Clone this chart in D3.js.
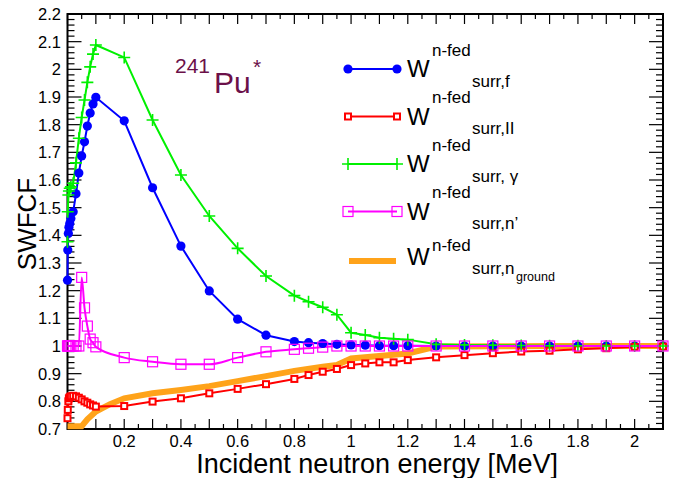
<!DOCTYPE html>
<html>
<head>
<meta charset="utf-8">
<script src="https://cdn.jsdelivr.net/npm/d3@7"></script>
<style>
  body { margin: 0; background: #fff; }
  text { font-family: "Liberation Sans", Arial, sans-serif; }
</style>
</head>
<body>
<div id="chart-area"></div>
<script>
// incident neutron energy (MeV) of the marked curves
var energy = [0.00001, 0.001, 0.003, 0.005, 0.008, 0.012, 0.02, 0.03, 0.04, 0.05, 0.06, 0.07, 0.08, 0.09, 0.1,
  0.2, 0.3, 0.4, 0.5, 0.6, 0.7, 0.8,
  0.85, 0.9, 0.95, 1.0, 1.05, 1.1, 1.15, 1.2,
  1.3, 1.4, 1.5, 1.6, 1.7, 1.8, 1.9, 2.0, 2.1];

var wFission = [1.238, 1.347, 1.407, 1.429, 1.443, 1.461, 1.485, 1.550, 1.625, 1.687, 1.738, 1.795, 1.842, 1.875, 1.899,
  1.814, 1.572, 1.361, 1.199, 1.097, 1.039, 1.016,
  1.012, 1.009, 1.006, 1.004, 1.003, 1.001, 1.001, 1.001,
  1.0, 1.0, 1.0, 1.0, 1.0, 1.0, 1.0, 1.0, 1.0];

var wTwo = [0.739, 0.769, 0.800, 0.811, 0.815, 0.818, 0.820, 0.818, 0.813, 0.807, 0.800, 0.795, 0.789, 0.785, 0.781,
  0.783, 0.799, 0.811, 0.829, 0.845, 0.862, 0.881,
  0.895, 0.907, 0.917, 0.931, 0.937, 0.941, 0.941, 0.949,
  0.959, 0.967, 0.974, 0.980, 0.983, 0.988, 0.992, 0.997, 0.998];

var wGamma = [1.377, 1.485, 1.546, 1.560, 1.570, 1.575, 1.588, 1.662, 1.751, 1.826, 1.889, 1.953, 2.009, 2.055, 2.088,
  2.043, 1.817, 1.618, 1.470, 1.353, 1.253, 1.182,
  1.160, 1.140, 1.113, 1.048, 1.040, 1.030, 1.026, 1.023,
  1.006, 1.004, 1.003, 1.002, 1.001, 1.001, 1.000, 1.000, 1.000];

var wInel = [1.0, 1.0, 1.0, 1.0, 1.0, 1.0, 1.0, 1.0, 1.0, 1.248, 1.138, 1.072, 1.025, 1.012, 0.997,
  0.958, 0.943, 0.934, 0.934, 0.958, 0.979, 0.988,
  0.992, 0.996, 1.0, 1.0, 1.0, 1.0, 1.0, 1.0,
  1.0, 1.0, 1.0, 1.0, 1.0, 1.0, 1.0, 1.0, 1.0];

// ground state curve (no markers)
var energyGround = [0, 0.05, 0.07, 0.1, 0.15, 0.2, 0.3, 0.4, 0.5, 0.6, 0.7, 0.8, 0.9, 0.95, 1.0, 1.2, 1.3, 1.5, 1.7, 2.1];
var wGround = [0.710, 0.710, 0.735, 0.763, 0.790, 0.811, 0.829, 0.841, 0.855, 0.873, 0.891, 0.910, 0.925, 0.931, 0.955, 0.973, 0.998, 0.999, 1.0, 1.0];

var xTickLabels = [0.2, 0.4, 0.6, 0.8, 1, 1.2, 1.4, 1.6, 1.8, 2];
var yTickLabels = [0.7, 0.8, 0.9, 1, 1.1, 1.2, 1.3, 1.4, 1.5, 1.6, 1.7, 1.8, 1.9, 2, 2.1, 2.2];

var legendSubs = ["surr,f", "surr,II", "surr, \u03b3", "surr,n\u2019", "surr,n"];

var width = 685, height = 478;
var pLeft = 67.5, pRight = 663, pTop = 14, pBottom = 429;

var svg = d3.select("#chart-area").append("svg")
  .attr("width", width)
  .attr("height", height);

var x = d3.scaleLinear().domain([0, 2.1]).range([pLeft, pRight]);
var y = d3.scaleLinear().domain([0.7, 2.2]).range([pBottom, pTop]);

// frame ticks (inside, on all four sides)
var ticks = svg.append("g").attr("stroke", "#000").attr("stroke-width", 1.2);
d3.range(0, 2.1001, 0.05).forEach(function(v) {
  var major = Math.abs(v * 10 - Math.round(v * 10)) < 1e-6;
  var len = major ? 10 : 5;
  ticks.append("line").attr("x1", x(v)).attr("x2", x(v)).attr("y1", pBottom).attr("y2", pBottom - len);
  ticks.append("line").attr("x1", x(v)).attr("x2", x(v)).attr("y1", pTop).attr("y2", pTop + len);
});
d3.range(0.7, 2.2001, 0.02).forEach(function(v) {
  var major = Math.abs(v * 10 - Math.round(v * 10)) < 1e-6;
  var len = major ? 14 : 7;
  ticks.append("line").attr("x1", pLeft).attr("x2", pLeft + len).attr("y1", y(v)).attr("y2", y(v));
  ticks.append("line").attr("x1", pRight).attr("x2", pRight - len).attr("y1", y(v)).attr("y2", y(v));
});

svg.append("rect")
  .attr("x", pLeft).attr("y", pTop)
  .attr("width", pRight - pLeft).attr("height", pBottom - pTop)
  .attr("fill", "none").attr("stroke", "#000").attr("stroke-width", 2);

// tick labels
svg.append("g").selectAll("text").data(xTickLabels).enter()
  .append("text")
  .attr("x", function(d) { return x(d); })
  .attr("y", 446.5)
  .attr("text-anchor", "middle")
  .attr("font-size", "16.5px")
  .text(function(d) { return d; });

svg.append("g").selectAll("text").data(yTickLabels).enter()
  .append("text")
  .attr("x", 61)
  .attr("y", function(d) { return y(d) + 6; })
  .attr("text-anchor", "end")
  .attr("font-size", "16.5px")
  .text(function(d) { return d; });

// axis titles
svg.append("text")
  .attr("x", 558).attr("y", 473)
  .attr("text-anchor", "end")
  .attr("font-size", "27px")
  .text("Incident neutron energy [MeV]");

svg.append("text")
  .attr("transform", "translate(36, 224) rotate(-90)")
  .attr("text-anchor", "middle")
  .attr("font-size", "26px")
  .text("SWFCF");

// curves
var blue = "#0000ff", red = "#ff0000", green = "#00f000", magenta = "#ff00ff", orange = "#ffa31a";

function pairs(xs, ys) {
  return xs.map(function(d, i) { return [d, ys[i]]; });
}

var line = d3.line().x(function(d) { return x(d[0]); }).y(function(d) { return y(d[1]); });
var smooth = d3.line().curve(d3.curveMonotoneX).x(function(d) { return x(d[0]); }).y(function(d) { return y(d[1]); });

svg.append("path").datum(pairs(energyGround, wGround))
  .attr("d", line).attr("fill", "none").attr("stroke", orange).attr("stroke-width", 6);

var fData = pairs(energy, wFission);
var iiData = pairs(energy, wTwo);
var gData = pairs(energy, wGamma);
var nData = pairs(energy, wInel);

svg.append("path").datum(fData).attr("d", line).attr("fill", "none").attr("stroke", blue).attr("stroke-width", 2);
svg.append("path").datum(iiData).attr("d", line).attr("fill", "none").attr("stroke", red).attr("stroke-width", 2);
svg.append("path").datum(gData).attr("d", line).attr("fill", "none").attr("stroke", green).attr("stroke-width", 2);
svg.append("path").datum(nData).attr("d", smooth).attr("fill", "none").attr("stroke", magenta).attr("stroke-width", 2);

// markers
function circleMark(g, px, py) {
  g.append("circle").attr("cx", px).attr("cy", py).attr("r", 4.6).attr("fill", blue);
}
function smallSquare(g, px, py) {
  g.append("rect").attr("x", px - 3).attr("y", py - 3).attr("width", 6).attr("height", 6)
    .attr("fill", "#fff").attr("stroke", red).attr("stroke-width", 2);
}
function plusMark(g, px, py) {
  g.append("path").attr("d", "M" + (px - 6) + "," + py + "H" + (px + 6) + "M" + px + "," + (py - 6) + "V" + (py + 6))
    .attr("stroke", green).attr("stroke-width", 1.6);
}
function openSquare(g, px, py) {
  g.append("rect").attr("x", px - 5).attr("y", py - 5).attr("width", 10).attr("height", 10)
    .attr("fill", "none").attr("stroke", magenta).attr("stroke-width", 1.2);
}

var marks = svg.append("g");
fData.forEach(function(d) { circleMark(marks, x(d[0]), y(d[1])); });
iiData.forEach(function(d) { smallSquare(marks, x(d[0]), y(d[1])); });
gData.forEach(function(d) { plusMark(marks, x(d[0]), y(d[1])); });
nData.forEach(function(d) { openSquare(marks, x(d[0]), y(d[1])); });

// legend
var leg = svg.append("g");
var rowY = [69, 116.5, 164, 211.5, 261];
var x1 = 348, x2 = 397;
leg.append("line").attr("x1", x1).attr("x2", x2).attr("y1", rowY[0]).attr("y2", rowY[0]).attr("stroke", blue).attr("stroke-width", 2);
circleMark(leg, x1, rowY[0]); circleMark(leg, x2, rowY[0]);
leg.append("line").attr("x1", x1).attr("x2", x2).attr("y1", rowY[1]).attr("y2", rowY[1]).attr("stroke", red).attr("stroke-width", 2);
smallSquare(leg, x1, rowY[1]); smallSquare(leg, x2, rowY[1]);
leg.append("line").attr("x1", x1).attr("x2", x2).attr("y1", rowY[2]).attr("y2", rowY[2]).attr("stroke", green).attr("stroke-width", 2);
plusMark(leg, x1, rowY[2]); plusMark(leg, x2, rowY[2]);
leg.append("line").attr("x1", x1).attr("x2", x2).attr("y1", rowY[3]).attr("y2", rowY[3]).attr("stroke", magenta).attr("stroke-width", 2);
openSquare(leg, x1, rowY[3]); openSquare(leg, x2, rowY[3]);
leg.append("line").attr("x1", 349).attr("x2", 396).attr("y1", rowY[4]).attr("y2", rowY[4]).attr("stroke", orange).attr("stroke-width", 6);

legendSubs.forEach(function(s, i) {
  var last = i === 4;
  var ry = rowY[i];
  leg.append("text").attr("x", 407).attr("y", ry + (last ? 4 : 8)).attr("font-size", "24px").text("W");
  leg.append("text").attr("x", 432).attr("y", ry + (last ? -10 : -13.5)).attr("font-size", "17px").text("n-fed");
  leg.append("text").attr("x", 472).attr("y", ry + (last ? 13 : 17.5)).attr("font-size", "17px").text(s);
  if (last) {
    leg.append("text").attr("x", 516).attr("y", ry + 20).attr("font-size", "12.5px").text("ground");
  }
});

// isotope label
var iso = svg.append("g").attr("fill", "#6b1049");
iso.append("text").attr("x", 175).attr("y", 73).attr("font-size", "21px").text("241");
iso.append("text").attr("x", 214).attr("y", 93).attr("font-size", "30px").text("Pu");
iso.append("text").attr("x", 253).attr("y", 74).attr("font-size", "21px").text("*");
</script>
</body>
</html>
